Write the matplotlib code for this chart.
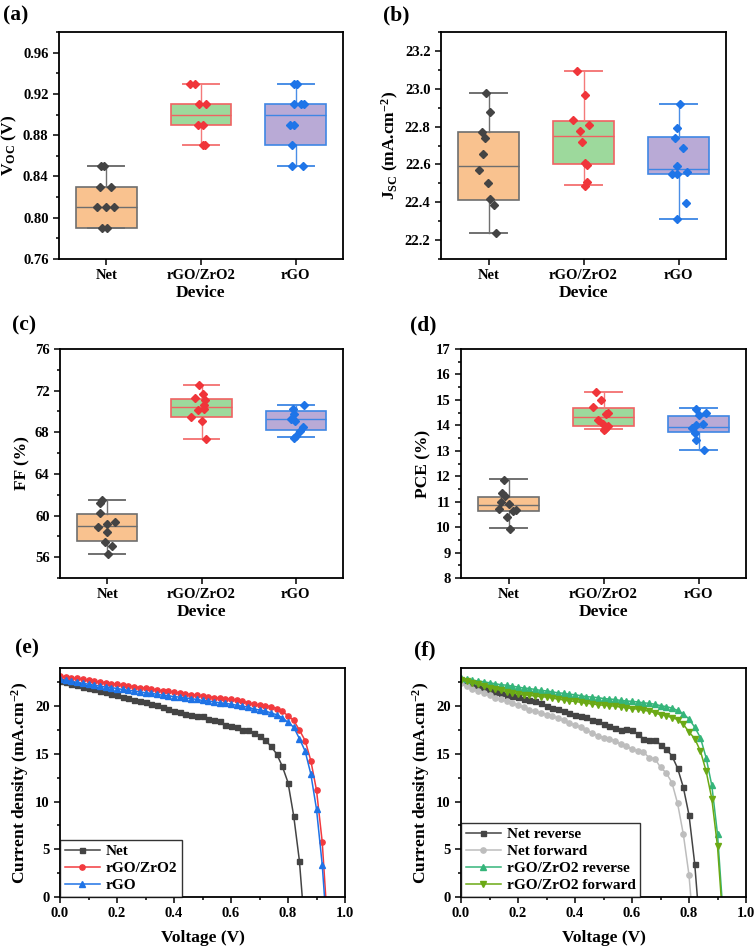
import numpy as np
import matplotlib
matplotlib.use("Agg")
import matplotlib.pyplot as plt
from matplotlib.ticker import MultipleLocator, FormatStrFormatter

plt.rcParams['font.family'] = ['Liberation Serif', 'DejaVu Serif']
plt.rcParams['font.weight'] = 'bold'
plt.rcParams['axes.labelweight'] = 'bold'
plt.rcParams['mathtext.fontset'] = 'custom'
plt.rcParams['mathtext.rm'] = 'Liberation Serif:bold'
plt.rcParams['mathtext.it'] = 'Liberation Serif:bold'
plt.rcParams['mathtext.bf'] = 'Liberation Serif:bold'

devices = ['Net', 'rGO/ZrO2', 'rGO']

# ---- box plot data: points + jitter offsets ----
voc_pts = [[0.85, 0.85, 0.83, 0.83, 0.81, 0.81, 0.81, 0.79, 0.79],
           [0.93, 0.93, 0.91, 0.91, 0.89, 0.89, 0.87, 0.87],
           [0.93, 0.93, 0.91, 0.91, 0.91, 0.89, 0.89, 0.87, 0.85, 0.85]]
voc_dx = [[-0.06, -0.025, -0.07, 0.046, -0.095, -0.007, 0.081, -0.042, 0.011],
          [-0.113, -0.06, -0.025, 0.053, -0.035, 0.018, 0.018, 0.046],
          [-0.018, 0.011, -0.018, 0.053, 0.088, -0.06, -0.018, -0.035, -0.035, 0.077]]
# q1, median, q3, whisker low, whisker high
voc_box = [[0.79, 0.81, 0.83, 0.79, 0.85],
           [0.89, 0.90, 0.91, 0.87, 0.93],
           [0.87, 0.90, 0.91, 0.85, 0.93]]

jsc_pts = [[22.978, 22.878, 22.772, 22.739, 22.653, 22.57, 22.50, 22.415, 22.384, 22.235],
           [23.095, 22.966, 22.833, 22.807, 22.777, 22.719, 22.607, 22.597, 22.509, 22.488],
           [22.920, 22.794, 22.742, 22.686, 22.592, 22.55, 22.55, 22.558, 22.398, 22.31]]
jsc_dx = [[-0.025, 0.018, -0.07, -0.042, -0.06, -0.095, -0.007, 0.021, 0.056, 0.081],
          [-0.067, 0.011, -0.109, 0.053, -0.042, -0.018, 0.018, 0.035, 0.042, 0.011],
          [0.011, -0.018, -0.035, 0.046, -0.018, -0.07, -0.018, 0.088, 0.081, -0.014]]
jsc_box = [[22.41, 22.59, 22.77, 22.235, 22.978],
           [22.60, 22.75, 22.83, 22.49, 23.095],
           [22.55, 22.576, 22.745, 22.31, 22.92]]

ff_pts = [[61.5, 61.25, 60.22, 58.91, 59.17, 59.36, 58.46, 57.5, 57.12, 56.29],
          [72.54, 71.68, 71.26, 71.10, 70.66, 70.14, 70.24, 69.44, 69.12, 67.33],
          [70.59, 70.24, 69.73, 69.25, 69.09, 68.48, 68.16, 67.65, 67.49]]
ff_dx = [[-0.06, -0.078, -0.078, -0.095, 0.0, 0.081, -0.007, -0.025, 0.046, 0.011],
         [-0.025, 0.011, -0.071, 0.042, 0.025, -0.035, 0.028, -0.116, 0.0, 0.053],
         [0.088, -0.028, -0.021, -0.056, -0.011, 0.078, 0.042, 0.007, -0.021]]
ff_box = [[57.57, 58.98, 60.19, 56.29, 61.5],
          [69.44, 70.4, 71.23, 67.33, 72.54],
          [68.22, 69.25, 70.05, 67.5, 70.6]]

pce_pts = [[11.87, 11.33, 11.21, 11.0, 10.92, 10.73, 10.62, 10.69, 10.39, 9.94],
           [15.31, 14.99, 14.73, 14.44, 14.47, 14.22, 14.07, 13.97, 13.85, 13.81],
           [14.65, 14.49, 14.40, 14.07, 14.01, 13.88, 13.68, 13.42, 13.02]]
pce_dx = [[-0.049, -0.07, -0.032, -0.077, 0.004, -0.095, 0.046, 0.081, -0.014, 0.011],
          [-0.077, -0.025, -0.112, 0.028, 0.045, -0.053, -0.007, 0.046, 0.011, 0.004],
          [-0.025, 0.081, 0.0, 0.046, -0.025, -0.07, -0.035, -0.025, 0.063]]
pce_box = [[10.62, 10.85, 11.19, 9.96, 11.9],
           [13.96, 14.31, 14.70, 13.84, 15.3],
           [13.72, 13.94, 14.38, 13.05, 14.68]]

# ---- J-V curves ----
v_net = [0.00, 0.02, 0.04, 0.06, 0.08, 0.10, 0.12, 0.14, 0.16, 0.18, 0.20, 0.22, 0.24, 0.26,
         0.28, 0.30, 0.32, 0.34, 0.36, 0.38, 0.40, 0.42, 0.44, 0.46, 0.48, 0.50, 0.52, 0.54,
         0.56, 0.58, 0.60, 0.62, 0.64, 0.66, 0.68, 0.70, 0.72, 0.74, 0.76, 0.78, 0.80, 0.82,
         0.84, 0.86]
j_net = [22.6, 22.5, 22.35, 22.2, 22.05, 21.9, 21.75, 21.6, 21.45, 21.3, 21.15, 21.0, 20.85,
         20.65, 20.5, 20.4, 20.25, 20.1, 19.95, 19.75, 19.5, 19.35, 19.2, 19.1, 19.0, 18.95,
         18.7, 18.55, 18.4, 18.0, 17.9, 17.85, 17.55, 17.45, 17.2, 16.85, 16.45, 15.8, 15.0,
         13.7, 12.0, 8.5, 3.8, -3.8]
v_zr = [0.00, 0.02, 0.04, 0.06, 0.08, 0.10, 0.12, 0.14, 0.16, 0.18, 0.20, 0.22, 0.24, 0.26,
        0.28, 0.30, 0.32, 0.34, 0.36, 0.38, 0.40, 0.42, 0.44, 0.46, 0.48, 0.50, 0.52, 0.54,
        0.56, 0.58, 0.60, 0.62, 0.64, 0.66, 0.68, 0.70, 0.72, 0.74, 0.76, 0.78, 0.80, 0.82,
        0.84, 0.86, 0.88, 0.90, 0.92, 0.94]
j_zr = [23.15, 23.05, 22.95, 22.9, 22.8, 22.7, 22.6, 22.55, 22.45, 22.35, 22.3, 22.2, 22.1,
        22.05, 21.95, 21.9, 21.8, 21.7, 21.6, 21.55, 21.45, 21.4, 21.3, 21.2, 21.15, 21.1,
        21.0, 20.9, 20.85, 20.8, 20.75, 20.6, 20.5, 20.35, 20.2, 20.1, 20.05, 19.95, 19.75,
        19.45, 19.0, 18.5, 17.5, 16.4, 14.3, 11.2, 5.8, -3.5]
j_rgo = [22.8, 22.7, 22.6, 22.5, 22.4, 22.3, 22.2, 22.1, 22.0, 21.95, 21.85, 21.75, 21.65,
         21.6, 21.5, 21.4, 21.35, 21.25, 21.15, 21.1, 21.0, 20.95, 20.85, 20.8, 20.7, 20.6,
         20.55, 20.45, 20.35, 20.3, 20.2, 20.1, 20.0, 19.9, 19.7, 19.6, 19.5, 19.3, 19.1,
         18.8, 18.3, 17.8, 16.6, 15.3, 12.9, 9.2, 3.4, -5.0]

v_hys_net = [0.00, 0.02, 0.04, 0.06, 0.08, 0.10, 0.12, 0.14, 0.16, 0.18, 0.20, 0.22, 0.24,
             0.26, 0.28, 0.30, 0.32, 0.34, 0.36, 0.38, 0.40, 0.42, 0.44, 0.46, 0.48, 0.50,
             0.52, 0.54, 0.56, 0.58, 0.60, 0.62, 0.64, 0.66, 0.68, 0.70, 0.72, 0.74, 0.76,
             0.78, 0.80, 0.82, 0.84]
j_net_rev = [22.6, 22.4, 22.2, 22.05, 21.85, 21.7, 21.5, 21.35, 21.2, 21.1, 21.0, 20.8, 20.65,
             20.5, 20.3, 20.0, 19.85, 19.75, 19.5, 19.3, 19.05, 18.95, 18.85, 18.6, 18.4,
             18.15, 17.95, 17.75, 17.45, 17.6, 17.45, 17.1, 16.6, 16.5, 16.5, 15.95, 15.5,
             14.8, 13.5, 11.5, 8.6, 3.5, -4.0]
j_net_fwd = [22.4, 22.1, 21.85, 21.6, 21.35, 21.15, 20.9, 20.75, 20.55, 20.35, 20.1, 19.9,
             19.65, 19.45, 19.3, 19.1, 18.95, 18.75, 18.5, 18.2, 18.0, 17.8, 17.5, 17.2, 16.9,
             16.7, 16.6, 16.4, 16.0, 15.8, 15.5, 15.3, 15.2, 14.6, 14.5, 13.6, 13.0, 12.0, 9.8,
             6.6, 2.3, -5.0, -12.0]
v_hys_zr = [0.00, 0.02, 0.04, 0.06, 0.08, 0.10, 0.12, 0.14, 0.16, 0.18, 0.20, 0.22, 0.24,
            0.26, 0.28, 0.30, 0.32, 0.34, 0.36, 0.38, 0.40, 0.42, 0.44, 0.46, 0.48, 0.50,
            0.52, 0.54, 0.56, 0.58, 0.60, 0.62, 0.64, 0.66, 0.68, 0.70, 0.72, 0.74, 0.76,
            0.78, 0.80, 0.82, 0.84, 0.86, 0.88, 0.90, 0.92]
j_zr_rev = [22.9, 22.8, 22.7, 22.65, 22.55, 22.45, 22.35, 22.25, 22.2, 22.1, 22.0, 21.9,
            21.85, 21.75, 21.65, 21.6, 21.5, 21.4, 21.35, 21.25, 21.2, 21.1, 21.0, 20.95,
            20.9, 20.8, 20.75, 20.7, 20.6, 20.55, 20.5, 20.45, 20.35, 20.3, 20.2, 20.05,
            19.95, 19.8, 19.55, 19.2, 18.65, 17.8, 16.7, 14.6, 11.7, 6.6, -2.0]
j_zr_fwd = [22.75, 22.6, 22.45, 22.3, 22.1, 21.95, 21.8, 21.65, 21.5, 21.4, 21.3, 21.2,
            21.15, 21.05, 21.0, 20.95, 20.85, 20.75, 20.65, 20.55, 20.5, 20.4, 20.3, 20.25,
            20.15, 20.1, 20.05, 20.0, 19.9, 19.85, 19.75, 19.7, 19.55, 19.5, 19.3, 19.1,
            19.0, 18.8, 18.6, 18.1, 17.3, 16.6, 15.3, 13.2, 10.3, 5.3, -3.0]

fill_cols = ['#F9C28F', '#9DD99C', '#B9AAD6']
edge_cols = ['#6E6E6E', '#F06262', '#3F86E4']
whisk_cols = ['#707070', '#F47A7A', '#4A8EE6']
pt_cols = ['#444444', '#F0353A', '#1F75E8']

W, H = 756, 948
fig = plt.figure(figsize=(W / 100, H / 100), dpi=100)


def add_ax(l, r, t, b):
    return fig.add_axes([l / W, 1 - b / H, (r - l) / W, (b - t) / H])


def style(ax):
    for s in ax.spines.values():
        s.set_linewidth(1.3)
    ax.tick_params(which='both', direction='out', top=False, right=False,
                   labelsize=10.5, width=1.1)
    ax.tick_params(which='major', length=4)
    ax.tick_params(which='minor', length=2.2)


def box_panel(ax, pts, dxs, box, ylim, major, minor, fmt, ylabel):
    stats = [dict(q1=b[0], med=b[1], q3=b[2], whislo=b[3], whishi=b[4], fliers=[])
             for b in box]
    bp = ax.bxp(stats, positions=[1, 2, 3], widths=0.64, patch_artist=True,
                showfliers=False, capwidths=0.38)
    for i in range(3):
        bp['boxes'][i].set_facecolor(fill_cols[i])
        bp['boxes'][i].set_edgecolor(edge_cols[i])
        bp['boxes'][i].set_linewidth(1.2)
        bp['medians'][i].set_color(edge_cols[i])
        bp['medians'][i].set_linewidth(1.0)
        for k in (2 * i, 2 * i + 1):
            bp['whiskers'][k].set_color(whisk_cols[i])
            bp['caps'][k].set_color(whisk_cols[i])
            bp['caps'][k].set_linewidth(1.4)
        xs = [i + 1 + d for d in dxs[i]]
        ax.plot(xs, pts[i], 'D', color=pt_cols[i], ms=4.5, zorder=4)
    ax.set_xlim(0.5, 3.5)
    ax.set_ylim(*ylim)
    ax.set_xticks([1, 2, 3])
    ax.set_xticklabels(devices)
    ax.yaxis.set_major_locator(MultipleLocator(major))
    ax.yaxis.set_minor_locator(MultipleLocator(minor))
    ax.yaxis.set_major_formatter(FormatStrFormatter(fmt))
    ax.set_xlabel('Device', fontsize=12.5, labelpad=2)
    ax.set_ylabel(ylabel, fontsize=12.5, labelpad=3)
    style(ax)


ax_a = add_ax(59, 343, 32, 259)
box_panel(ax_a, voc_pts, voc_dx, voc_box, (0.76, 0.98), 0.04, 0.02, '%.2f',
          r'V$_{\mathrm{OC}}$ (V)')
ax_b = add_ax(441, 726, 32, 259)
box_panel(ax_b, jsc_pts, jsc_dx, jsc_box, (22.1, 23.3), 0.2, 0.1, '%.1f',
          r'J$_{\mathrm{SC}}$ (mA.cm$^{\mathrm{-2}}$)')
ax_c = add_ax(60, 343, 349, 578)
box_panel(ax_c, ff_pts, ff_dx, ff_box, (54, 76), 4, 2, '%d', 'FF (%)')
ax_d = add_ax(461, 746, 349, 578)
box_panel(ax_d, pce_pts, pce_dx, pce_box, (8, 17), 1, 0.5, '%d', 'PCE (%)')


def jv_axes(ax):
    ax.set_xlim(0, 1)
    ax.set_ylim(0, 24)
    ax.xaxis.set_major_locator(MultipleLocator(0.2))
    ax.xaxis.set_minor_locator(MultipleLocator(0.1))
    ax.xaxis.set_major_formatter(FormatStrFormatter('%.1f'))
    ax.yaxis.set_major_locator(MultipleLocator(5))
    ax.yaxis.set_minor_locator(MultipleLocator(2.5))
    ax.set_xlabel('Voltage (V)', fontsize=12.5, labelpad=7)
    ax.set_ylabel(r'Current density (mA.cm$^{\mathrm{-2}}$)', fontsize=12.5, labelpad=3)
    style(ax)
    leg = ax.legend(loc='lower left', fontsize=11, frameon=True, fancybox=False,
                    borderaxespad=0, handlelength=2.3, handletextpad=0.4,
                    labelspacing=0.22, borderpad=0.3)
    leg.get_frame().set_edgecolor('black')
    leg.get_frame().set_linewidth(1.0)


ax_e = add_ax(60, 345, 668, 897)
ax_e.plot(v_net, j_net, '-s', color='#444444', ms=3.6, lw=1.1, label='Net')
ax_e.plot(v_zr, j_zr, '-o', color='#F23A3E', ms=3.8, lw=1.1, label='rGO/ZrO2')
ax_e.plot(v_zr, j_rgo, '-^', color='#1F73E6', ms=4.0, lw=1.1, label='rGO')
jv_axes(ax_e)

ax_f = add_ax(461, 746, 668, 897)
ax_f.plot(v_hys_net, j_net_rev, '-s', color='#444444', ms=3.6, lw=1.1, label='Net reverse')
ax_f.plot(v_hys_net, j_net_fwd, '-o', color='#BDBDBD', ms=3.8, lw=1.1, label='Net forward')
ax_f.plot(v_hys_zr, j_zr_rev, '-^', color='#35B57A', ms=4.0, lw=1.1,
          label='rGO/ZrO2 reverse')
ax_f.plot(v_hys_zr, j_zr_fwd, '-v', color='#6BA915', ms=4.0, lw=1.1,
          label='rGO/ZrO2 forward')
jv_axes(ax_f)

# panel letters
for txt, x, y in [('(a)', 3, 15), ('(b)', 383, 15), ('(c)', 12, 325),
                  ('(d)', 410, 325), ('(e)', 15, 648), ('(f)', 414, 650)]:
    fig.text(x / W, 1 - y / H, txt, fontsize=15.5, fontweight='bold',
             ha='left', va='center')

fig.savefig('out.png', dpi=100)
